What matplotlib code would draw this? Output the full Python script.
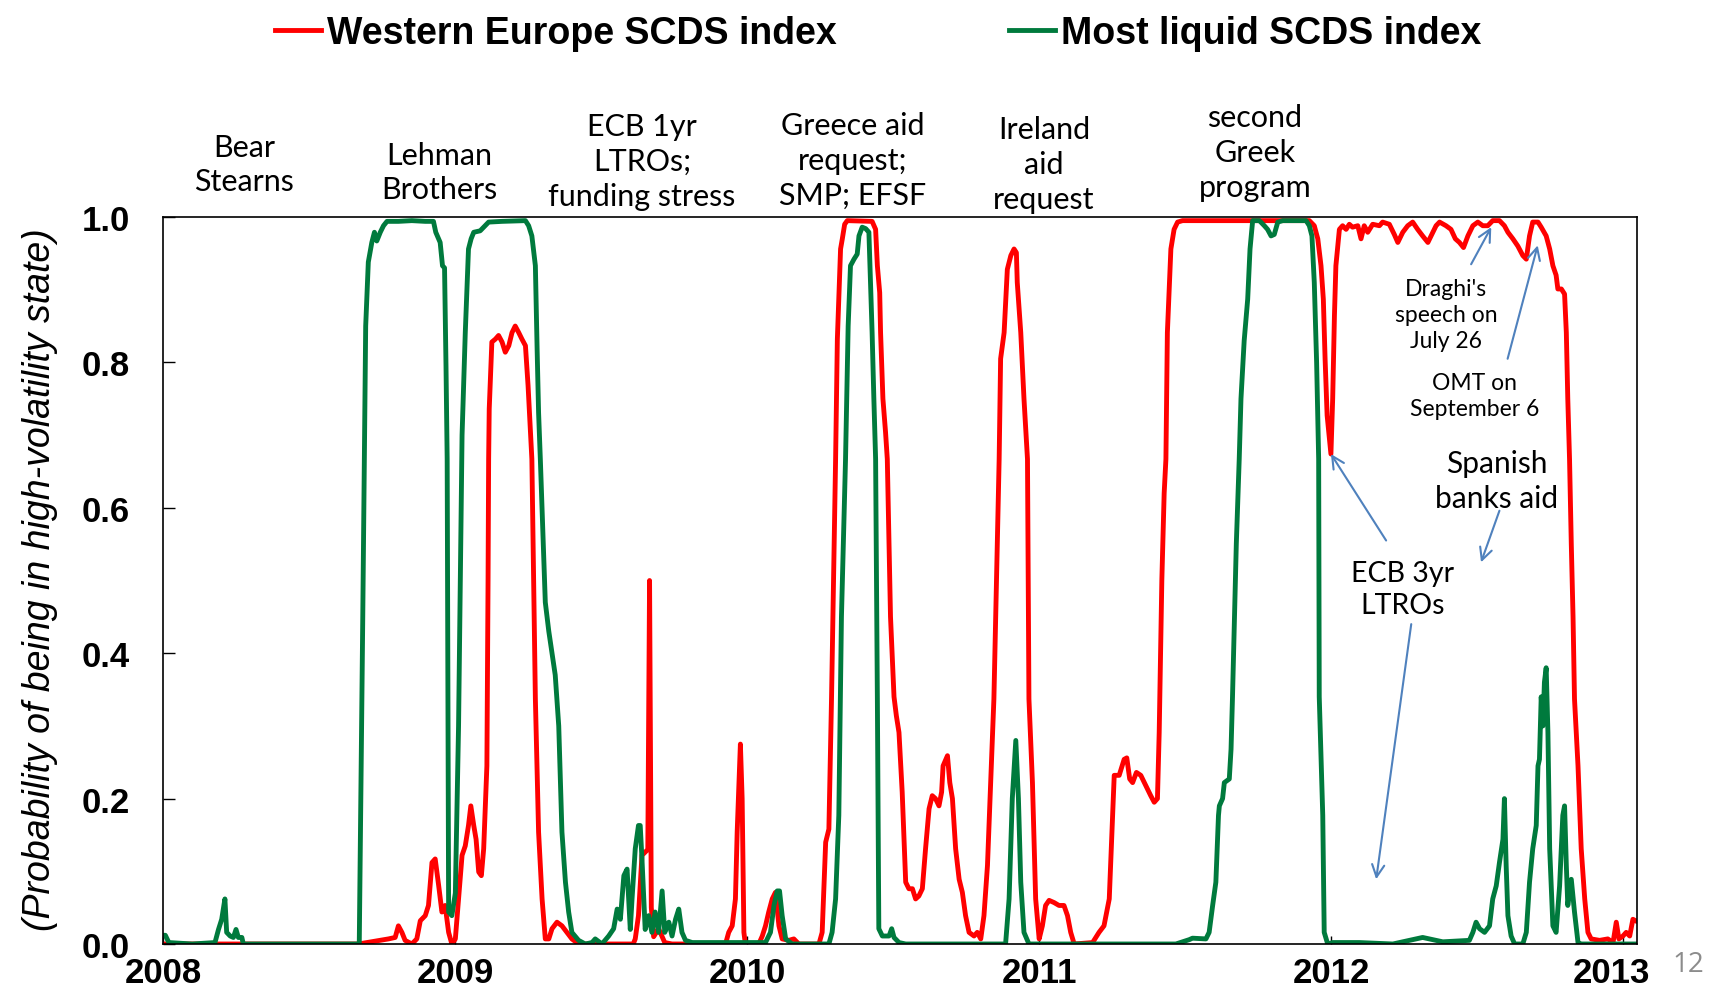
import matplotlib
matplotlib.use("Agg")
import matplotlib.pyplot as plt
import matplotlib.transforms as mtransforms
from matplotlib.font_manager import FontProperties

# Data (x = fractional year, y = probability)
green_x = [2008.000, 2008.008, 2008.020, 2008.100, 2008.178, 2008.190, 2008.201, 2008.212, 2008.218, 2008.230,
           2008.241, 2008.250, 2008.258, 2008.270, 2008.275, 2008.500, 2008.672, 2008.684, 2008.694, 2008.703,
           2008.715, 2008.724, 2008.732, 2008.744, 2008.755, 2008.767, 2008.806, 2008.852, 2008.898, 2008.926,
           2008.934, 2008.949, 2008.957, 2008.964, 2008.969, 2008.973, 2008.976, 2008.978, 2008.989, 2009.001,
           2009.012, 2009.024, 2009.035, 2009.046, 2009.055, 2009.064, 2009.086, 2009.098, 2009.115, 2009.161,
           2009.241, 2009.252, 2009.263, 2009.275, 2009.281, 2009.286, 2009.292, 2009.309, 2009.321, 2009.332,
           2009.343, 2009.355, 2009.366, 2009.378, 2009.389, 2009.400, 2009.423, 2009.446, 2009.469, 2009.480,
           2009.503, 2009.526, 2009.543, 2009.555, 2009.566, 2009.578, 2009.589, 2009.600, 2009.606, 2009.617,
           2009.628, 2009.634, 2009.640, 2009.651, 2009.663, 2009.674, 2009.685, 2009.697, 2009.709, 2009.718,
           2009.732, 2009.743, 2009.755, 2009.766, 2009.777, 2009.789, 2009.812, 2009.900, 2010.063, 2010.080,
           2010.092, 2010.103, 2010.111, 2010.120, 2010.132, 2010.154, 2010.280, 2010.291, 2010.303, 2010.314,
           2010.323, 2010.337, 2010.346, 2010.354, 2010.366, 2010.377, 2010.383, 2010.394, 2010.406, 2010.417,
           2010.428, 2010.434, 2010.440, 2010.446, 2010.451, 2010.463, 2010.486, 2010.495, 2010.503, 2010.520,
           2010.543, 2010.885, 2010.897, 2010.908, 2010.920, 2010.929, 2010.937, 2010.948, 2010.965, 2011.300,
           2011.468, 2011.514, 2011.525, 2011.571, 2011.582, 2011.594, 2011.605, 2011.614, 2011.617, 2011.628,
           2011.634, 2011.651, 2011.657, 2011.662, 2011.675, 2011.685, 2011.691, 2011.702, 2011.714, 2011.722,
           2011.731, 2011.754, 2011.771, 2011.782, 2011.794, 2011.805, 2011.817, 2011.834, 2011.914, 2011.925,
           2011.934, 2011.942, 2011.950, 2011.957, 2011.959, 2011.971, 2011.976, 2011.988, 2012.005, 2012.096,
           2012.211, 2012.313, 2012.382, 2012.473, 2012.485, 2012.496, 2012.508, 2012.525, 2012.542, 2012.553,
           2012.565, 2012.576, 2012.588, 2012.593, 2012.599, 2012.605, 2012.616, 2012.628, 2012.656, 2012.668,
           2012.679, 2012.690, 2012.702, 2012.708, 2012.713, 2012.719, 2012.725, 2012.730, 2012.736, 2012.742,
           2012.748, 2012.759, 2012.770, 2012.782, 2012.793, 2012.799, 2012.805, 2012.810, 2012.822, 2012.833,
           2012.845, 2012.856, 2013.047]
green_y = [0.012, 0.012, 0.002, 0.000, 0.002, 0.020, 0.034, 0.062, 0.016, 0.011,
           0.009, 0.020, 0.009, 0.009, 0.000, 0.000, 0.000, 0.450, 0.850, 0.938,
           0.965, 0.979, 0.967, 0.979, 0.988, 0.994, 0.994, 0.995, 0.994, 0.994,
           0.979, 0.965, 0.933, 0.930, 0.795, 0.667, 0.300, 0.044, 0.039, 0.070,
           0.300, 0.700, 0.841, 0.956, 0.970, 0.979, 0.981, 0.986, 0.993, 0.994,
           0.995, 0.988, 0.974, 0.933, 0.818, 0.731, 0.667, 0.470, 0.430, 0.400,
           0.370, 0.300, 0.154, 0.085, 0.044, 0.016, 0.005, 0.000, 0.002, 0.007,
           0.000, 0.011, 0.021, 0.048, 0.034, 0.094, 0.103, 0.020, 0.062, 0.131,
           0.163, 0.163, 0.117, 0.020, 0.039, 0.016, 0.044, 0.016, 0.073, 0.016,
           0.030, 0.011, 0.034, 0.048, 0.016, 0.005, 0.002, 0.002, 0.002, 0.016,
           0.053, 0.073, 0.073, 0.039, 0.007, 0.000, 0.000, 0.016, 0.062, 0.177,
           0.450, 0.667, 0.850, 0.933, 0.942, 0.949, 0.974, 0.986, 0.984, 0.979,
           0.841, 0.750, 0.667, 0.337, 0.021, 0.011, 0.011, 0.021, 0.009, 0.002,
           0.000, 0.000, 0.062, 0.200, 0.280, 0.200, 0.085, 0.016, 0.000, 0.000,
           0.000, 0.006, 0.008, 0.007, 0.016, 0.053, 0.085, 0.177, 0.190, 0.200,
           0.222, 0.227, 0.268, 0.340, 0.550, 0.667, 0.750, 0.830, 0.887, 0.956,
           0.995, 0.995, 0.988, 0.983, 0.974, 0.976, 0.993, 0.995, 0.995, 0.988,
           0.974, 0.910, 0.800, 0.667, 0.340, 0.177, 0.016, 0.000, 0.002, 0.002,
           0.000, 0.009, 0.003, 0.005, 0.016, 0.030, 0.021, 0.016, 0.025, 0.062,
           0.080, 0.112, 0.144, 0.200, 0.108, 0.039, 0.011, 0.000, 0.000, 0.016,
           0.085, 0.131, 0.163, 0.245, 0.254, 0.340, 0.300, 0.360, 0.380, 0.291,
           0.131, 0.025, 0.016, 0.080, 0.177, 0.190, 0.108, 0.053, 0.089, 0.044,
           0.002, 0.000, 0.000]

red_x = [2008.000, 2008.669, 2008.772, 2008.795, 2008.806, 2008.818, 2008.829, 2008.852, 2008.869, 2008.881,
         2008.898, 2008.909, 2008.921, 2008.932, 2008.944, 2008.955, 2008.966, 2008.978, 2008.989, 2009.001,
         2009.012, 2009.024, 2009.035, 2009.046, 2009.054, 2009.064, 2009.072, 2009.081, 2009.090, 2009.098,
         2009.109, 2009.113, 2009.115, 2009.117, 2009.126, 2009.138, 2009.149, 2009.161, 2009.172, 2009.184,
         2009.195, 2009.206, 2009.218, 2009.229, 2009.241, 2009.250, 2009.258, 2009.263, 2009.275, 2009.286,
         2009.298, 2009.309, 2009.321, 2009.332, 2009.349, 2009.366, 2009.383, 2009.400, 2009.423, 2009.610,
         2009.617, 2009.628, 2009.640, 2009.660, 2009.666, 2009.672, 2009.680, 2009.697, 2009.718, 2009.743,
         2009.926, 2009.937, 2009.949, 2009.960, 2009.966, 2009.972, 2009.977, 2009.983, 2009.989, 2009.994,
         2010.040, 2010.052, 2010.063, 2010.074, 2010.086, 2010.097, 2010.109, 2010.120, 2010.143, 2010.160,
         2010.177, 2010.246, 2010.257, 2010.269, 2010.280, 2010.289, 2010.303, 2010.309, 2010.320, 2010.326,
         2010.334, 2010.343, 2010.428, 2010.440, 2010.446, 2010.454, 2010.457, 2010.465, 2010.474, 2010.480,
         2010.491, 2010.503, 2010.511, 2010.520, 2010.531, 2010.543, 2010.554, 2010.566, 2010.577, 2010.588,
         2010.600, 2010.611, 2010.623, 2010.634, 2010.645, 2010.657, 2010.666, 2010.671, 2010.686, 2010.694,
         2010.703, 2010.714, 2010.726, 2010.737, 2010.748, 2010.760, 2010.777, 2010.788, 2010.800, 2010.811,
         2010.823, 2010.834, 2010.845, 2010.863, 2010.868, 2010.880, 2010.891, 2010.903, 2010.914, 2010.922,
         2010.925, 2010.937, 2010.948, 2010.960, 2010.965, 2010.977, 2010.988, 2011.000, 2011.011, 2011.022,
         2011.034, 2011.051, 2011.068, 2011.085, 2011.097, 2011.108, 2011.120, 2011.183, 2011.205, 2011.222,
         2011.240, 2011.249, 2011.257, 2011.274, 2011.291, 2011.300, 2011.310, 2011.320, 2011.333, 2011.348,
         2011.365, 2011.382, 2011.394, 2011.405, 2011.411, 2011.420, 2011.428, 2011.434, 2011.439, 2011.451,
         2011.462, 2011.474, 2011.491, 2011.925, 2011.942, 2011.954, 2011.965, 2011.973, 2011.979, 2011.986,
         2011.994, 2011.999, 2012.005, 2012.011, 2012.016, 2012.028, 2012.039, 2012.051, 2012.062, 2012.073,
         2012.091, 2012.102, 2012.113, 2012.125, 2012.142, 2012.165, 2012.176, 2012.199, 2012.216, 2012.228,
         2012.245, 2012.262, 2012.279, 2012.296, 2012.313, 2012.331, 2012.342, 2012.359, 2012.371, 2012.393,
         2012.410, 2012.425, 2012.439, 2012.453, 2012.468, 2012.485, 2012.502, 2012.519, 2012.536, 2012.553,
         2012.576, 2012.593, 2012.605, 2012.622, 2012.639, 2012.656, 2012.668, 2012.679, 2012.690, 2012.708,
         2012.719, 2012.736, 2012.748, 2012.759, 2012.770, 2012.776, 2012.788, 2012.799, 2012.805, 2012.810,
         2012.816, 2012.822, 2012.828, 2012.833, 2012.845, 2012.856, 2012.868, 2012.879, 2012.890, 2012.919,
         2012.947, 2012.965, 2012.976, 2012.985, 2012.999, 2013.010, 2013.022, 2013.033, 2013.042]
red_y = [0.000, 0.000, 0.007, 0.009, 0.025, 0.016, 0.005, 0.000, 0.007, 0.032,
         0.039, 0.053, 0.112, 0.117, 0.080, 0.044, 0.053, 0.016, 0.000, 0.007,
         0.062, 0.122, 0.135, 0.163, 0.190, 0.163, 0.144, 0.099, 0.094, 0.131,
         0.245, 0.500, 0.667, 0.736, 0.828, 0.832, 0.837, 0.828, 0.814, 0.823,
         0.841, 0.850, 0.841, 0.832, 0.823, 0.768, 0.704, 0.667, 0.337, 0.154,
         0.062, 0.007, 0.007, 0.021, 0.030, 0.025, 0.016, 0.007, 0.000, 0.000,
         0.007, 0.039, 0.122, 0.130, 0.500, 0.050, 0.010, 0.021, 0.002, 0.000,
         0.000, 0.016, 0.025, 0.062, 0.154, 0.222, 0.275, 0.200, 0.016, 0.000,
         0.000, 0.011, 0.025, 0.044, 0.062, 0.071, 0.025, 0.007, 0.005, 0.007,
         0.000, 0.000, 0.016, 0.140, 0.158, 0.337, 0.667, 0.832, 0.956, 0.970,
         0.990, 0.995, 0.994, 0.983, 0.933, 0.896, 0.841, 0.750, 0.704, 0.667,
         0.450, 0.340, 0.314, 0.291, 0.209, 0.085, 0.076, 0.076, 0.062, 0.066,
         0.076, 0.131, 0.186, 0.204, 0.200, 0.190, 0.209, 0.245, 0.259, 0.222,
         0.200, 0.131, 0.089, 0.071, 0.039, 0.016, 0.011, 0.016, 0.007, 0.039,
         0.108, 0.222, 0.337, 0.667, 0.805, 0.841, 0.928, 0.947, 0.956, 0.951,
         0.910, 0.841, 0.750, 0.667, 0.337, 0.222, 0.062, 0.007, 0.025, 0.053,
         0.060, 0.057, 0.053, 0.053, 0.039, 0.016, 0.000, 0.002, 0.016, 0.025,
         0.062, 0.154, 0.232, 0.232, 0.254, 0.256, 0.227, 0.222, 0.236, 0.232,
         0.218, 0.204, 0.195, 0.200, 0.291, 0.500, 0.620, 0.667, 0.841, 0.956,
         0.983, 0.993, 0.995, 0.995, 0.988, 0.970, 0.933, 0.887, 0.805, 0.727,
         0.695, 0.674, 0.750, 0.864, 0.933, 0.983, 0.988, 0.983, 0.990, 0.986,
         0.988, 0.970, 0.988, 0.979, 0.990, 0.988, 0.993, 0.990, 0.976, 0.965,
         0.979, 0.988, 0.993, 0.983, 0.974, 0.965, 0.974, 0.988, 0.993, 0.988,
         0.983, 0.970, 0.965, 0.958, 0.974, 0.988, 0.993, 0.988, 0.988, 0.995,
         0.995, 0.988, 0.979, 0.970, 0.960, 0.947, 0.942, 0.974, 0.993, 0.993,
         0.986, 0.974, 0.956, 0.933, 0.920, 0.901, 0.901, 0.894, 0.841, 0.750,
         0.667, 0.550, 0.450, 0.337, 0.245, 0.131, 0.062, 0.016, 0.007, 0.005,
         0.007, 0.002, 0.030, 0.007, 0.011, 0.016, 0.011, 0.034, 0.032]

years = [2008, 2009, 2010, 2011, 2012, 2013]
yticks = [0.0, 0.2, 0.4, 0.6, 0.8, 1.0]

events_top = ["Bear\nStearns", "Lehman\nBrothers", "ECB 1yr\nLTROs;\nfunding stress",
              "Greece aid\nrequest;\nSMP; EFSF", "Ireland\naid\nrequest", "second\nGreek\nprogram"]

RED = "#FF0000"
GREEN = "#007A3D"
BLUE = "#4F81BD"

W, H = 1722, 1003


def px(x, y):
    # pixel position -> figure fraction
    return x / W, 1 - y / H


fig = plt.figure(figsize=(W / 100, H / 100), dpi=100)
ax = fig.add_axes([163 / W, 1 - 945 / H, (1637 - 163) / W, (945 - 218) / H])

l_red, = ax.plot(red_x, red_y, color=RED, lw=3.5, solid_joinstyle="round")
l_green, = ax.plot(green_x, green_y, color=GREEN, lw=3.5, solid_joinstyle="round")

ax.set_xlim(2008, 2013.047)
ax.set_ylim(0, 1)

tick_font = FontProperties(family="Liberation Sans", weight="bold", size=25)
ax.set_yticks(yticks)
ax.set_yticklabels(["%.1f" % v for v in yticks], fontproperties=tick_font)
ax.set_xticks(years)
ax.set_xticklabels([str(y) for y in years], fontproperties=tick_font)
ax.tick_params(axis="y", direction="in", length=8.5, width=1.0, pad=24)
ax.tick_params(axis="x", direction="in", length=6, width=1.0, pad=9)
for s in ax.spines.values():
    s.set_linewidth(1.2)
    s.set_color("black")

# last year label sits a bit to the left in the original
last = ax.get_xticklabels()[-1]
last.set_transform(last.get_transform() + mtransforms.ScaledTranslation(-0.12, 0, fig.dpi_scale_trans))

# y label
fig.text(*px(40, 580), "(Probability of being in high-volatility state)", rotation=90,
         ha="center", va="center", family="Liberation Sans", style="italic", fontsize=27)

# legend
fig.legend([l_red, l_green], ["Western Europe SCDS index", "Most liquid SCDS index"],
           loc="center", bbox_to_anchor=px(878, 34), ncol=2, frameon=False,
           prop=FontProperties(family="Liberation Sans", weight="bold", size=27),
           handlelength=1.23, handletextpad=0.15, columnspacing=4.6, borderpad=0)

# event labels above the plot
top_pos = [(244, 165), (439, 173), (642, 162), (853, 161), (1044, 165), (1255, 153)]
for txt, (x, y) in zip(events_top, top_pos):
    fig.text(*px(x, y), txt, ha="center", va="center", family="Lato", fontsize=22,
             linespacing=1.3, color="black")

# annotations inside the plot
ax.text(2012.393, 0.866, "Draghi's\nspeech on\nJuly 26", ha="center", va="center",
        family="Lato", fontsize=16.5, linespacing=1.3)
ax.text(2012.49, 0.755, "OMT on\nSeptember 6", ha="center", va="center",
        family="Lato", fontsize=16.5, linespacing=1.3)
ax.text(2012.566, 0.638, "Spanish\nbanks aid", ha="center", va="center",
        family="Lato", fontsize=21.5, linespacing=1.3)
ax.text(2012.244, 0.488, "ECB 3yr\nLTROs", ha="center", va="center",
        family="Lato", fontsize=20.5, linespacing=1.3)

arrows = [((2012.548, 0.986), (2012.479, 0.935)),
          ((2012.707, 0.961), (2012.604, 0.805)),
          ((2011.999, 0.674), (2012.188, 0.555)),
          ((2012.513, 0.525), (2012.576, 0.596)),
          ((2012.154, 0.089), (2012.274, 0.440))]
for tip, start in arrows:
    ax.annotate("", xy=tip, xytext=start,
                arrowprops=dict(arrowstyle="->", color=BLUE, lw=1.5, mutation_scale=22,
                                shrinkA=0, shrinkB=0))

# page number
fig.text(*px(1688, 965), "12", ha="center", va="center", family="Open Sans",
         fontsize=20, color="#8C8C8C")

fig.savefig("out.png", dpi=100)
